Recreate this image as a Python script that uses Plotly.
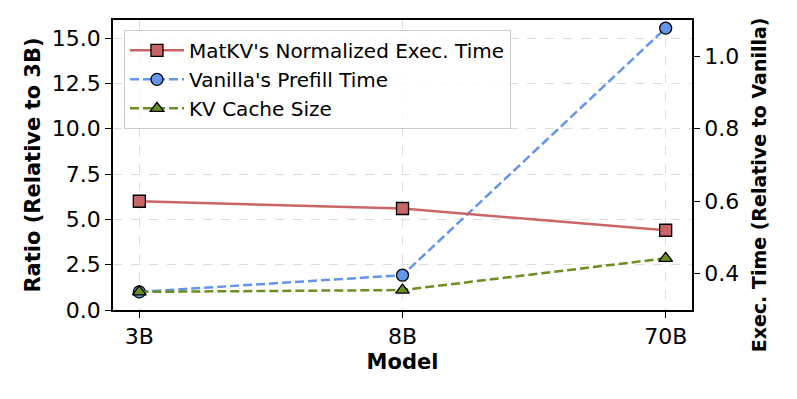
import plotly.graph_objects as go

models = ["3B", "8B", "70B"]
matkv_exec = [0.60, 0.58, 0.52]      # right axis, relative to vanilla
vanilla_prefill = [1.0, 1.92, 15.55]  # left axis, relative to 3B
kv_cache_size = [1.0, 1.10, 2.85]     # left axis, relative to 3B

left_ticks = [0.0, 2.5, 5.0, 7.5, 10.0, 12.5, 15.0]
right_ticks = [0.4, 0.6, 0.8, 1.0]

FONT = "DejaVu Sans"

fig = go.Figure()

fig.add_trace(go.Scatter(
    x=models, y=matkv_exec, yaxis="y2",
    name="MatKV's Normalized Exec. Time",
    mode="lines+markers",
    line=dict(color="#c96567", width=2.5),
    marker=dict(symbol="square", size=12, color="#c96567",
                line=dict(color="black", width=1.3)),
))
fig.add_trace(go.Scatter(
    x=models, y=vanilla_prefill,
    name="Vanilla's Prefill Time",
    mode="lines+markers",
    line=dict(color="#6495ED", width=2.5, dash="9px,4px"),
    marker=dict(symbol="circle", size=12, color="#6495ED",
                line=dict(color="black", width=1.3)),
))
fig.add_trace(go.Scatter(
    x=models, y=kv_cache_size,
    name="KV Cache Size",
    mode="lines+markers",
    line=dict(color="#6B8E23", width=2.5, dash="9px,4px"),
    marker=dict(symbol="triangle-up", size=12, color="#6B8E23",
                line=dict(color="black", width=1.3)),
))

fig.update_layout(
    width=797, height=399,
    margin=dict(l=105, r=113, t=12, b=97),
    paper_bgcolor="white", plot_bgcolor="white",
    font=dict(family=FONT, size=22, color="black"),
    showlegend=True,
    legend=dict(
        x=0.019, y=0.966, xanchor="left", yanchor="top",
        bgcolor="rgba(255,255,255,0.8)", bordercolor="#cccccc", borderwidth=1,
        font=dict(family=FONT, size=20, color="black"),
        tracegroupgap=0, itemwidth=54,
    ),
    xaxis=dict(
        type="category", range=[-0.1, 2.1], automargin=False,
        title=dict(text="<b>Model</b>", font=dict(size=21), standoff=6),
        showline=True, linecolor="black", linewidth=1.5, mirror=True,
        ticks="outside", tickcolor="black", ticklen=6, tickwidth=1.3,
        showgrid=True, gridcolor="#dddddd", griddash="dash", gridwidth=1,
        tickfont=dict(size=22),
    ),
    yaxis=dict(
        range=[0, 16.0], tickvals=left_ticks, automargin=False,
        ticktext=[f"{v:.1f}" for v in left_ticks],
        title=dict(text="<b>Ratio (Relative to 3B)</b>", font=dict(size=21), standoff=6),
        showline=True, linecolor="black", linewidth=1.5, mirror=True,
        ticks="outside", tickcolor="black", ticklen=6, tickwidth=1.3,
        showgrid=True, gridcolor="#dddddd", griddash="dash", gridwidth=1,
        zeroline=False, tickfont=dict(size=22),
    ),
    yaxis2=dict(
        overlaying="y", side="right", automargin=False,
        range=[0.3, 1.1], tickvals=right_ticks,
        ticktext=[f"{v:.1f}" for v in right_ticks],
        showline=True, linecolor="black", linewidth=1.5,
        ticks="outside", tickcolor="black", ticklen=6, tickwidth=1.3,
        showgrid=False, zeroline=False, tickfont=dict(size=22),
    ),
    annotations=[dict(
        text="<b>Exec. Time (Relative to Vanilla)</b>",
        xref="paper", yref="paper", x=1.0, xshift=67, y=0.43,
        xanchor="center", yanchor="middle", textangle=-90, showarrow=False,
        font=dict(family=FONT, size=19, color="black"),
    )],
)

fig.write_html("out.html")
